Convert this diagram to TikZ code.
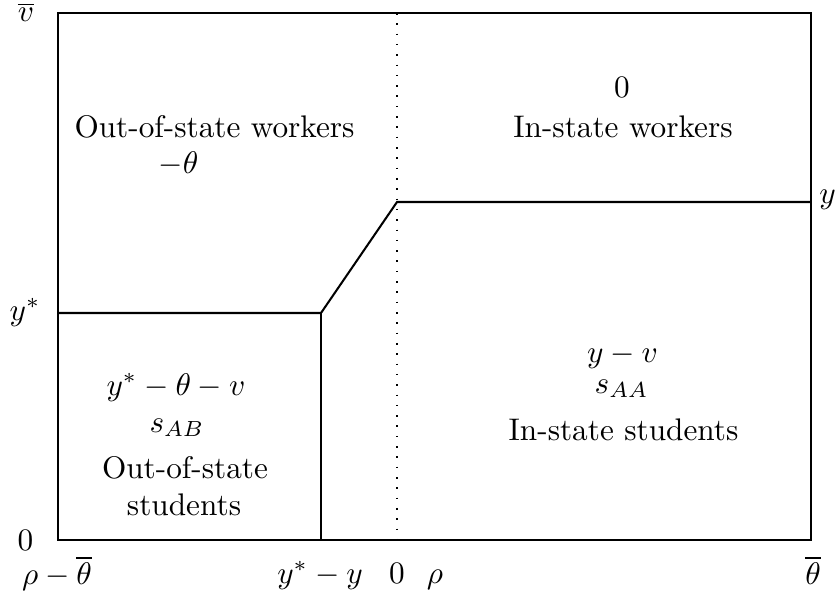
\documentclass[tikz,border=0pt]{standalone}
\usepackage{amsmath}
\begin{document}
\begin{tikzpicture}[x=0.32pt,y=-0.32pt,
  edge/.style={line width=0.65pt},
  dots/.style={line width=0.5pt, dash pattern=on 0.5pt off 2.8pt},
  lbl/.style={anchor=base, inner sep=0pt}]
\useasboundingbox (0,0) rectangle (838,597);
% corners and kinks
\coordinate (tl) at (58,13);
\coordinate (br) at (811,540);
\coordinate (ys) at (58,313);
\coordinate (k1) at (321,313);
\coordinate (k0) at (321,540);
\coordinate (k2) at (397,202);
\coordinate (yr) at (811,202);
\coordinate (dtop) at (397,13);
\coordinate (dbot) at (397,540);
% frame and boundaries
\draw[edge] (tl) rectangle (br);
\draw[dots] (dtop) -- (dbot);
\draw[edge] (ys) -- (k1) -- (k2) -- (yr);
\draw[edge] (k1) -- (k0);
% axis labels
\node[lbl] (vbar) at (26,22) {$\overline{v}$};
\node[lbl] (ystar) at (25,320) {$y^*$};
\node[lbl] (zeroL) at (25.5,550) {$0$};
\node[lbl] (rhomt) at (57,584) {$\rho-\overline{\theta}$};
\node[lbl] (ysmy) at (320,583) {$y^*-y$};
\node[lbl] (zeroB) at (397,583) {$0$};
\node[lbl] (rho) at (435,583) {$\rho$};
\node[lbl] (thbar) at (813,584) {$\overline{\theta}$};
\node[lbl] (yR) at (827.5,203) {$y$};
% region texts
\node[lbl] (zeroTR) at (622,98) {$0$};
\node[lbl] (isw) at (623,137) {In-state workers};
\node[lbl] (osw) at (214.5,137) {Out-of-state workers};
\node[lbl] (mth) at (178.5,173) {$-\theta$};
\node[lbl] (oss1) at (176,395) {$y^*-\theta-v$};
\node[lbl] (oss2) at (177,432) {$s_{AB}$};
\node[lbl] (oss3) at (185,478) {Out-of-state};
\node[lbl] (oss4) at (184,515) {students};
\node[lbl] (iss1) at (622.5,362) {$y-v$};
\node[lbl] (iss2) at (621.5,393) {$s_{AA}$};
\node[lbl] (iss3) at (623.5,440) {In-state students};
\end{tikzpicture}
\end{document}
